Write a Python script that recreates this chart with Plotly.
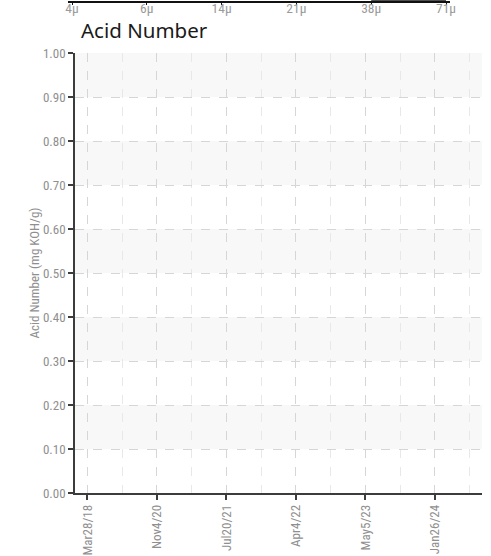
import plotly.graph_objects as go

# ---- data ----
categories = ["Mar28/18", "Nov4/20", "Jul20/21", "Apr4/22", "May5/23", "Jan26/24"]
acid_values = [None, None, None, None, None, None]   # no readings plotted
y_ticks = [0.0, 0.1, 0.2, 0.3, 0.4, 0.5, 0.6, 0.7, 0.8, 0.9, 1.0]

# partially visible chart above (cut off at the top edge)
top_categories = ["4\u03bc", "6\u03bc", "14\u03bc", "21\u03bc", "38\u03bc", "71\u03bc"]
top_bar_x = ["38\u03bc", "71\u03bc"]
top_bar_y = [0.5, 0.5]

W, H = 491, 556
ML, MR, MT, MB = 60, 9, 0, 63
PW = W - ML - MR
PH = H - MT - MB

narrow = "Liberation Sans Narrow, Roboto Condensed, Roboto, sans-serif"
tick_font = dict(family=narrow, size=13, color="#8f8f8f")
axis_col = "#3c3c3c"

fig = go.Figure()

xpos = list(range(len(categories)))
fig.add_trace(go.Scatter(x=xpos, y=acid_values, mode="lines+markers",
                         line=dict(color="#1f77b4"), showlegend=False,
                         xaxis="x", yaxis="y"))

tpos = [top_categories.index(c) for c in top_bar_x]
fig.add_trace(go.Scatter(x=tpos, y=top_bar_y, mode="lines",
                         line=dict(color="#505050", width=3), showlegend=False,
                         cliponaxis=False, hoverinfo="skip",
                         xaxis="x2", yaxis="y2"))

# alternating bands
shapes = []
for i in range(1, len(y_ticks) - 1, 2):
    shapes.append(dict(type="rect", xref="x domain", yref="y",
                       x0=0, x1=1, y0=y_ticks[i], y1=y_ticks[i + 1],
                       fillcolor="#f8f8f8", line=dict(width=0), layer="below"))

x_main_left = (75 - ML) / PW
minor_vals = [i + 0.5 for i in range(-1, len(categories))]

fig.update_layout(
    width=W, height=H,
    margin=dict(l=ML, r=MR, t=MT, b=MB, autoexpand=False),
    paper_bgcolor="white", plot_bgcolor="white",
    shapes=shapes,
    title=dict(text="Acid Number", xref="container", yref="container",
               x=81 / W, xanchor="left", y=1 - 31 / H, yanchor="middle",
               automargin=False,
               font=dict(family="Noto Sans, Open Sans, sans-serif", size=20.5, color="#1a1a1a")),
    xaxis=dict(
        domain=[x_main_left, 1], anchor="y", automargin=False,
        range=[-0.177, 5.679],
        tickmode="array", tickvals=xpos, ticktext=categories,
        tickangle=-90, tickfont=tick_font,
        showline=True, linecolor=axis_col, linewidth=1.5,
        ticks="outside", ticklen=5, tickwidth=1.5, tickcolor=axis_col,
        showgrid=True, gridcolor="#d6d6d6", griddash="dash", gridwidth=1,
        minor=dict(tickmode="array", tickvals=minor_vals, showgrid=True,
                   gridcolor="#e8e8e8", griddash="dash", ticks=""),
        zeroline=False, fixedrange=True,
    ),
    yaxis=dict(
        domain=[0, (493.3 - 53.3) / PH], anchor="x", automargin=False,
        range=[0, 1], tickmode="array", tickvals=y_ticks,
        tickformat=".2f", tickfont=tick_font,
        showline=True, linecolor=axis_col, linewidth=1.5,
        ticks="outside", ticklen=5, tickwidth=1.5, tickcolor=axis_col,
        showgrid=True, gridcolor="#d6d6d6", griddash="dash", gridwidth=1,
        zeroline=False,
        title=dict(text="Acid Number (mg KOH/g)", standoff=0,
                   font=dict(family=narrow, size=13, color="#8f8f8f")),
    ),
    xaxis2=dict(
        domain=[(68 - ML) / PW, (450 - ML) / PW], anchor="y2", automargin=False,
        range=[-0.0535, 5.0535],
        tickmode="array", tickvals=list(range(len(top_categories))), ticktext=top_categories,
        tickfont=dict(family="Roboto Condensed, Roboto, sans-serif", size=13.5, color="#9a9a9a"),
        showline=True, linecolor="#111111", linewidth=1.5,
        ticks="outside", ticklen=2, tickwidth=1, tickcolor="#111111",
        ticklabelstandoff=-8,
        showgrid=False, zeroline=False,
    ),
    yaxis2=dict(
        domain=[0.997, 1], anchor="x2", range=[0, 1], automargin=False,
        tickmode="array", tickvals=[0], ticktext=["0"],
        tickfont=dict(family="Roboto, sans-serif", size=12, color="#9a9a9a"),
        showline=False, showgrid=False, zeroline=False, ticks="",
    ),
    yaxis3=dict(
        overlaying="y2", side="right", anchor="x2", range=[0, 1], automargin=False,
        tickmode="array", tickvals=[0], ticktext=["0"],
        tickfont=dict(family="Roboto, sans-serif", size=12, color="#9a9a9a"),
        showline=False, showgrid=False, zeroline=False, ticks="",
    ),
)

fig.write_html("out.html", config={"displayModeBar": False},
               post_script="document.body.style.margin='0';document.body.style.padding='0';")
